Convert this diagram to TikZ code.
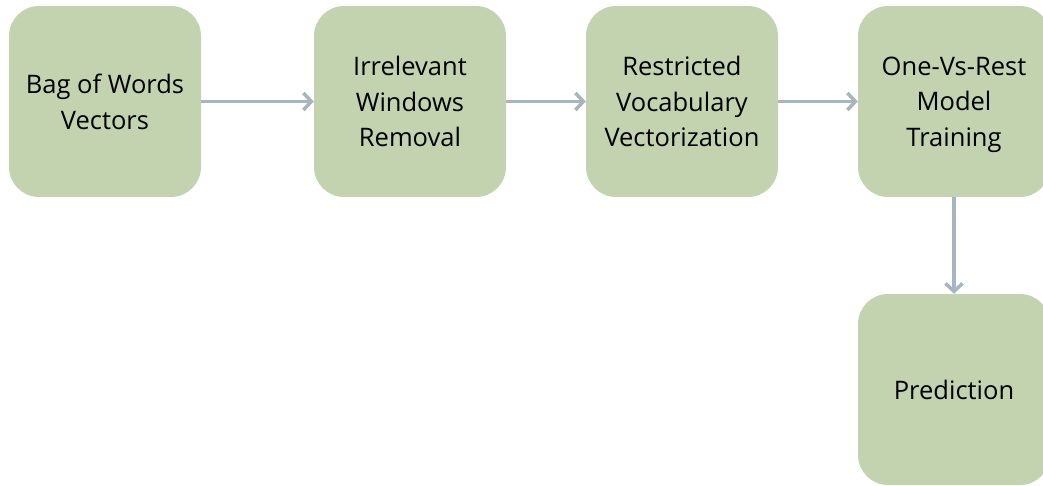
\documentclass[tikz,border=0pt]{standalone}
\usepackage{fontspec}
\setmainfont{Open Sans}
\usepackage{tikz}
\usetikzlibrary{arrows.meta}

\definecolor{stepgreen}{HTML}{C3D3B0}
\definecolor{arrowgray}{HTML}{A8B5BF}

\tikzset{
    stage/.style={fill=stepgreen, rounded corners=30pt, minimum width=192pt,
        minimum height=191pt, align=center, text=black, text depth=0pt,
        font=\fontsize{25.5}{35.5}\selectfont},
    flow/.style={draw=arrowgray, line width=3.5pt,
        -{Straight Barb[length=8pt, width=17pt, line width=3.5pt]}}
}

\begin{document}
\begin{tikzpicture}[x=1pt, y=1pt]
        \useasboundingbox (0, 0) rectangle (1043, 485);
        \clip (0, 0) rectangle (1043, 485);

        \node[stage] (bow) at (105, 383.5) {Bag of Words\\Vectors};
        \node[stage] (irr) at (410, 383.5) {Irrelevant\\Windows\\Removal};
        \node[stage] (voc) at (682, 383.5) {Restricted\\Vocabulary\\Vectorization};
        \node[stage] (ovr) at (954, 383.5) {One-Vs-Rest\\Model\\Training};

        \node[stage] (pred) at (954, 95.5) {Prediction};

        \draw[flow] (bow) -- (irr);
        \draw[flow] (irr) -- (voc);
        \draw[flow] (voc) -- (ovr);
        \draw[flow] (ovr) -- (pred);
    \end{tikzpicture}
\end{document}
